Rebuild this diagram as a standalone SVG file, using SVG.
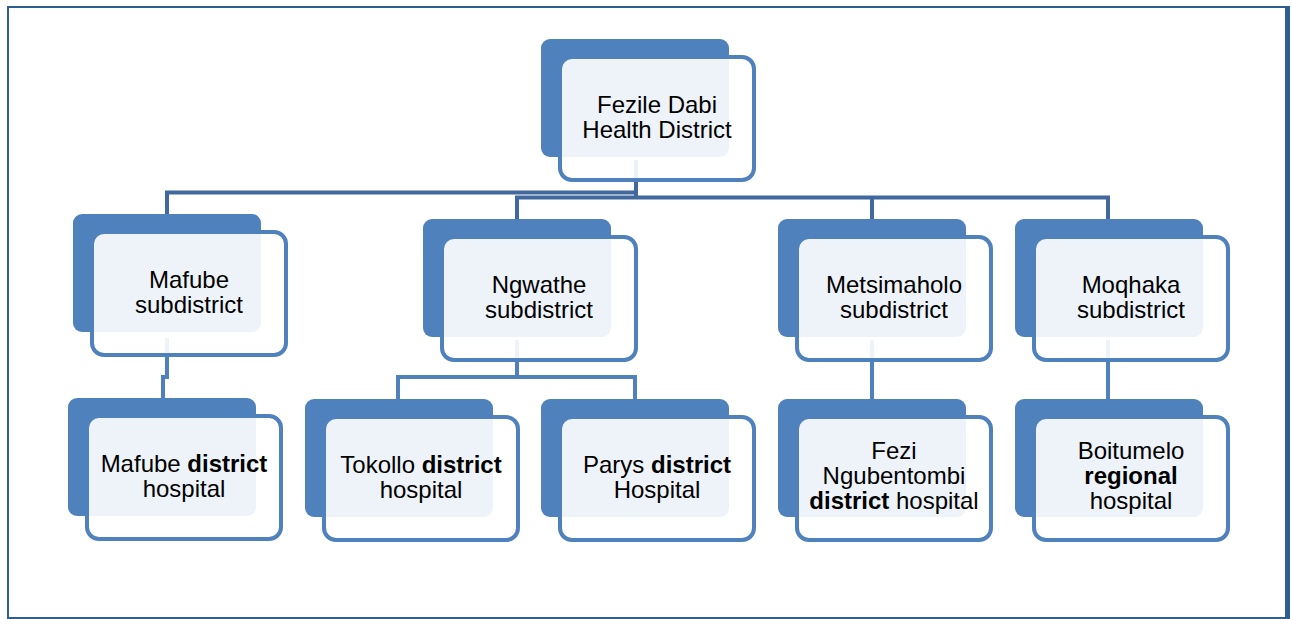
<svg xmlns="http://www.w3.org/2000/svg" width="1292" height="619" viewBox="0 0 1292 619">
<style>
.back{fill:#4f81bd}
.front{fill:#ffffff;fill-opacity:0.9;stroke:#4f81bd;stroke-width:4}
.t{font-family:"Liberation Sans",Arial,sans-serif;font-size:24px;fill:#000;text-anchor:middle}
.b{font-weight:bold}
.c1{fill:none;stroke:#41699e;stroke-width:4}
.c2{fill:none;stroke:#4f81bd;stroke-width:4}
.frame{fill:none;stroke:#2f5e93}
</style>
<rect width="1292" height="619" fill="#ffffff"/>
<g id="frame">
<line class="frame" x1="8" y1="6" x2="8" y2="619" stroke-width="2"/>
<line class="frame" x1="7" y1="7" x2="1290" y2="7" stroke-width="2"/>
<line class="frame" x1="1287.5" y1="6" x2="1287.5" y2="619" stroke-width="5"/>
<line class="frame" x1="7" y1="618" x2="1290" y2="618" stroke-width="2"/>
</g>
<g id="connectors">
<path class="c1" d="M636,160 V198"/>
<path class="c1" d="M167,214 V192.5 H636"/>
<path class="c1" d="M517,219 V197.5 H1108 V219"/>
<path class="c1" d="M872,197.5 V219"/>
<path class="c2" d="M167,338 V377 H163 V398"/>
<path class="c2" d="M517,340 V377"/>
<path class="c2" d="M398,399 V377 H635 V399"/>
<path class="c2" d="M872,340 V399"/>
<path class="c2" d="M1108,340 V399"/>
</g>
<g id="root">
<rect class="back" x="541" y="39" width="188" height="118" rx="9"/>
<rect class="front" x="560" y="57" width="194" height="123" rx="12"/>
<text class="t" x="657" y="112.5">Fezile Dabi</text>
<text class="t" x="657" y="137.5">Health District</text>
</g>
<g id="mafube-sub">
<rect class="back" x="73" y="214" width="188" height="118" rx="9"/>
<rect class="front" x="92" y="232" width="194" height="123" rx="12"/>
<text class="t" x="189" y="287.5">Mafube</text>
<text class="t" x="189" y="312.5">subdistrict</text>
</g>
<g id="ngwathe-sub">
<rect class="back" x="423" y="219" width="188" height="118" rx="9"/>
<rect class="front" x="442" y="237" width="194" height="123" rx="12"/>
<text class="t" x="539" y="292.5">Ngwathe</text>
<text class="t" x="539" y="317.5">subdistrict</text>
</g>
<g id="metsimaholo-sub">
<rect class="back" x="778" y="219" width="188" height="118" rx="9"/>
<rect class="front" x="797" y="237" width="194" height="123" rx="12"/>
<text class="t" x="894" y="292.5">Metsimaholo</text>
<text class="t" x="894" y="317.5">subdistrict</text>
</g>
<g id="moqhaka-sub">
<rect class="back" x="1015" y="219" width="188" height="118" rx="9"/>
<rect class="front" x="1034" y="237" width="194" height="123" rx="12"/>
<text class="t" x="1131" y="292.5">Moqhaka</text>
<text class="t" x="1131" y="317.5">subdistrict</text>
</g>
<g id="mafube-hospital">
<rect class="back" x="68" y="398" width="188" height="118" rx="9"/>
<rect class="front" x="87" y="416" width="194" height="123" rx="12"/>
<text class="t" x="184" y="471.5">Mafube <tspan class="b">district</tspan></text>
<text class="t" x="184" y="496.5">hospital</text>
</g>
<g id="tokollo-hospital">
<rect class="back" x="305" y="399" width="188" height="118" rx="9"/>
<rect class="front" x="324" y="417" width="194" height="123" rx="12"/>
<text class="t" x="421" y="472.5">Tokollo <tspan class="b">district</tspan></text>
<text class="t" x="421" y="497.5">hospital</text>
</g>
<g id="parys-hospital">
<rect class="back" x="541" y="399" width="188" height="118" rx="9"/>
<rect class="front" x="560" y="417" width="194" height="123" rx="12"/>
<text class="t" x="657" y="472.5">Parys <tspan class="b">district</tspan></text>
<text class="t" x="657" y="497.5">Hospital</text>
</g>
<g id="fezi-hospital">
<rect class="back" x="778" y="399" width="188" height="118" rx="9"/>
<rect class="front" x="797" y="417" width="194" height="123" rx="12"/>
<text class="t" x="894" y="458.5">Fezi</text>
<text class="t" x="894" y="483.5">Ngubentombi</text>
<text class="t" x="894" y="508.5"><tspan class="b">district</tspan> hospital</text>
</g>
<g id="boitumelo-hospital">
<rect class="back" x="1015" y="399" width="188" height="118" rx="9"/>
<rect class="front" x="1034" y="417" width="194" height="123" rx="12"/>
<text class="t" x="1131" y="458.5">Boitumelo</text>
<text class="t b" x="1131" y="483.5">regional</text>
<text class="t" x="1131" y="508.5">hospital</text>
</g>
</svg>
